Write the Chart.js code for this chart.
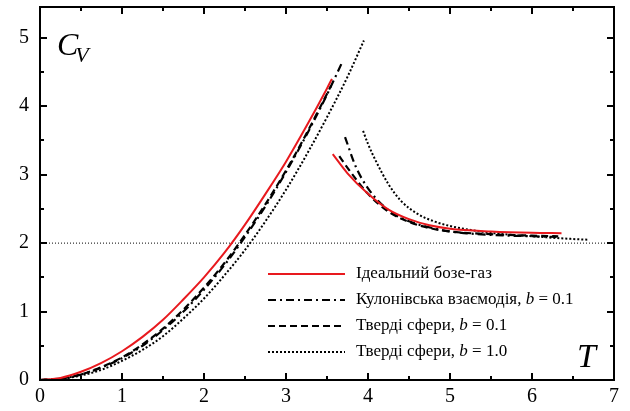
<!DOCTYPE html>
<html>
<head>
<meta charset="utf-8">
<script src="https://cdn.jsdelivr.net/npm/chart.js@4.4.1/dist/chart.umd.min.js"></script>
<style>
html,body{margin:0;padding:0;background:#fff;}
#wrap{width:630px;height:411px;position:relative;}
</style>
</head>
<body>
<div id="wrap"><canvas id="c" width="630" height="411"></canvas></div>
<script>
// ---- data ----
const xTickLabels = ['0','1','2','3','4','5','6','7'];
const yTickLabels = ['0','1','2','3','4','5'];

// Ideal Bose gas (red)
const tIdealLow  = [0, 0.25, 0.5, 0.75, 1.0, 1.25, 1.5, 1.75, 2.0, 2.25, 2.5, 2.75, 3.0, 3.25, 3.5, 3.56];
const cIdealLow  = [0, 0.03, 0.12, 0.25, 0.42, 0.63, 0.88, 1.18, 1.50, 1.86, 2.27, 2.72, 3.19, 3.71, 4.26, 4.40];
const tIdealHigh = [3.57, 3.75, 4.0, 4.25, 4.5, 4.75, 5.0, 5.5, 6.0, 6.36];
const cIdealHigh = [3.30, 3.02, 2.72, 2.49, 2.35, 2.26, 2.21, 2.17, 2.15, 2.145];

// Coulomb interaction, b = 0.1 (dash-dot)
const tCoulLow  = [0, 0.25, 0.5, 0.75, 1.0, 1.25, 1.5, 1.75, 2.0, 2.25, 2.5, 2.75, 3.0, 3.25, 3.5, 3.68];
const cCoulLow  = [0, 0.02, 0.08, 0.18, 0.32, 0.50, 0.73, 1.00, 1.32, 1.68, 2.09, 2.54, 3.04, 3.58, 4.17, 4.63];
const tCoulHigh = [3.72, 3.85, 4.0, 4.25, 4.5, 4.75, 5.0, 5.5, 6.0, 6.3];
const cCoulHigh = [3.55, 3.12, 2.80, 2.48, 2.32, 2.23, 2.17, 2.12, 2.10, 2.09];

// Hard spheres, b = 0.1 (dashed)
const tHs1Low  = [0, 0.25, 0.5, 0.75, 1.0, 1.25, 1.5, 1.75, 2.0, 2.25, 2.5, 2.75, 3.0, 3.25, 3.55];
const cHs1Low  = [0, 0.02, 0.08, 0.19, 0.33, 0.52, 0.75, 1.03, 1.35, 1.71, 2.12, 2.57, 3.06, 3.60, 4.30];
const tHs1High = [3.65, 3.75, 4.0, 4.25, 4.5, 4.75, 5.0, 5.5, 6.0, 6.32];
const cHs1High = [3.27, 3.10, 2.72, 2.46, 2.31, 2.22, 2.17, 2.13, 2.11, 2.10];

// Hard spheres, b = 1.0 (dotted)
const tHs2Low  = [0, 0.25, 0.5, 0.75, 1.0, 1.25, 1.5, 1.75, 2.0, 2.25, 2.5, 2.75, 3.0, 3.25, 3.5, 3.75, 3.95];
const cHs2Low  = [0, 0.015, 0.066, 0.15, 0.28, 0.44, 0.64, 0.90, 1.19, 1.53, 1.90, 2.32, 2.78, 3.29, 3.84, 4.43, 4.96];
const tHs2High = [3.94, 4.0, 4.1, 4.25, 4.4, 4.6, 4.8, 5.0, 5.5, 6.0, 6.5, 6.69];
const cHs2High = [3.64, 3.45, 3.19, 2.86, 2.62, 2.43, 2.32, 2.25, 2.15, 2.10, 2.06, 2.05];

// reference horizontal line C_V = 2
const tRef = [0, 7];
const cRef = [2, 2];

const legendLabels = [
  ['Ідеальний бозе-газ', '', ''],
  ['Кулонівська взаємодія, ', 'b', ' = 0.1'],
  ['Тверді сфери, ', 'b', ' = 0.1'],
  ['Тверді сфери, ', 'b', ' = 1.0']
];

// ---- build ----
const pts = (xs, ys) => xs.map((x, i) => ({x: x, y: ys[i]}));
const RED = '#e8191e';
const SERIF = '"Liberation Serif", "Times New Roman", serif';

const styles = [
  {color: RED, width: 2, dash: []},
  {color: '#000', width: 2.2, dash: [8, 4, 2, 4]},
  {color: '#000', width: 2.2, dash: [7, 4]},
  {color: '#000', width: 2, dash: [2, 2]}
];

function ds(data, st) {
  return {
    data: data, borderColor: st.color, borderWidth: st.width, borderDash: st.dash,
    pointRadius: 0, fill: false, cubicInterpolationMode: 'monotone', showLine: true
  };
}

const datasets = [
  ds(pts(tIdealLow, cIdealLow), styles[0]),
  ds(pts(tIdealHigh, cIdealHigh), styles[0]),
  ds(pts(tHs1Low, cHs1Low), styles[2]),
  ds(pts(tHs1High, cHs1High), styles[2]),
  ds(pts(tCoulLow, cCoulLow), styles[1]),
  ds(pts(tCoulHigh, cCoulHigh), styles[1]),
  ds(pts(tHs2Low, cHs2Low), styles[3]),
  ds(pts(tHs2High, cHs2High), styles[3]),
  ds(pts(tRef, cRef), {color: '#000', width: 1, dash: [1, 2]})
];

const decor = {
  id: 'decor',
  afterDatasetsDraw(chart) {
    const ctx = chart.ctx;
    const a = chart.chartArea;
    const xs = chart.scales.x, ys = chart.scales.y;
    ctx.save();
    ctx.setLineDash([]);
    ctx.strokeStyle = '#000';
    ctx.lineWidth = 2;
    ctx.strokeRect(a.left, a.top, a.right - a.left, a.bottom - a.top);
    // inward ticks
    ctx.lineWidth = 2;
    ctx.beginPath();
    for (let v = xs.min; v <= xs.max + 1e-9; v += 0.5) {
      const p = Math.round(xs.getPixelForValue(v));
      const len = Math.abs(v - Math.round(v)) < 1e-9 ? 7 : 4;
      ctx.moveTo(p, a.bottom); ctx.lineTo(p, a.bottom - len);
      ctx.moveTo(p, a.top); ctx.lineTo(p, a.top + len);
    }
    for (let v = ys.min; v <= ys.max + 1e-9; v += 0.5) {
      const p = Math.round(ys.getPixelForValue(v));
      const len = Math.abs(v - Math.round(v)) < 1e-9 ? 7 : 4;
      ctx.moveTo(a.left, p); ctx.lineTo(a.left + len, p);
      ctx.moveTo(a.right, p); ctx.lineTo(a.right - len, p);
    }
    ctx.stroke();

    // axis titles
    ctx.fillStyle = '#000';
    ctx.textBaseline = 'alphabetic';
    ctx.textAlign = 'left';
    ctx.font = 'italic 32px ' + SERIF;
    ctx.fillText('C', 57, 55);
    const cw = ctx.measureText('C').width;
    ctx.font = 'italic 22px ' + SERIF;
    ctx.fillText('V', 57 + cw - 3, 62);
    ctx.font = 'italic 34px ' + SERIF;
    ctx.fillText('T', 577, 367);

    // legend
    const rows = [274, 300, 326, 352];
    const x0 = 268, x1 = 345, tx = 356;
    for (let i = 0; i < 4; i++) {
      const st = styles[i];
      ctx.beginPath();
      ctx.strokeStyle = st.color;
      ctx.lineWidth = st.width;
      ctx.setLineDash(st.dash);
      ctx.moveTo(x0, rows[i]); ctx.lineTo(x1, rows[i]);
      ctx.stroke();
      ctx.setLineDash([]);
      ctx.fillStyle = '#000';
      ctx.textBaseline = 'middle';
      let x = tx;
      const parts = legendLabels[i];
      ctx.font = '17px ' + SERIF;
      ctx.fillText(parts[0], x, rows[i]); x += ctx.measureText(parts[0]).width;
      if (parts[1]) {
        ctx.font = 'italic 17px ' + SERIF;
        ctx.fillText(parts[1], x, rows[i]); x += ctx.measureText(parts[1]).width;
        ctx.font = '17px ' + SERIF;
        ctx.fillText(parts[2], x, rows[i]);
      }
    }
    ctx.restore();
  }
};

new Chart(document.getElementById('c'), {
  type: 'scatter',
  data: {datasets: datasets},
  options: {
    responsive: false,
    animation: false,
    devicePixelRatio: 1,
    layout: {padding: {top: 7, right: 16, left: 0, bottom: 0}},
    plugins: {legend: {display: false}, tooltip: {enabled: false}},
    scales: {
      x: {
        type: 'linear', min: 0, max: 7,
        grid: {display: false, drawTicks: false},
        border: {display: false},
        afterFit: s => { s.height = 31; s.paddingLeft = 0; s.paddingRight = 0; },
        ticks: {
          stepSize: 1, includeBounds: false, padding: 5, color: '#000', maxRotation: 0,
          font: {family: SERIF, size: 20},
          callback: (v) => xTickLabels[Math.round(v)] !== undefined ? xTickLabels[Math.round(v)] : ''
        }
      },
      y: {
        type: 'linear', min: 0, max: 5.45,
        grid: {display: false, drawTicks: false},
        border: {display: false},
        afterFit: s => { s.width = 40; s.paddingTop = 0; s.paddingBottom = 0; },
        ticks: {
          stepSize: 1, includeBounds: false, padding: 11, color: '#000',
          font: {family: SERIF, size: 20},
          callback: (v) => yTickLabels[Math.round(v)] !== undefined ? yTickLabels[Math.round(v)] : ''
        }
      }
    }
  },
  plugins: [decor]
});
</script>
</body>
</html>
